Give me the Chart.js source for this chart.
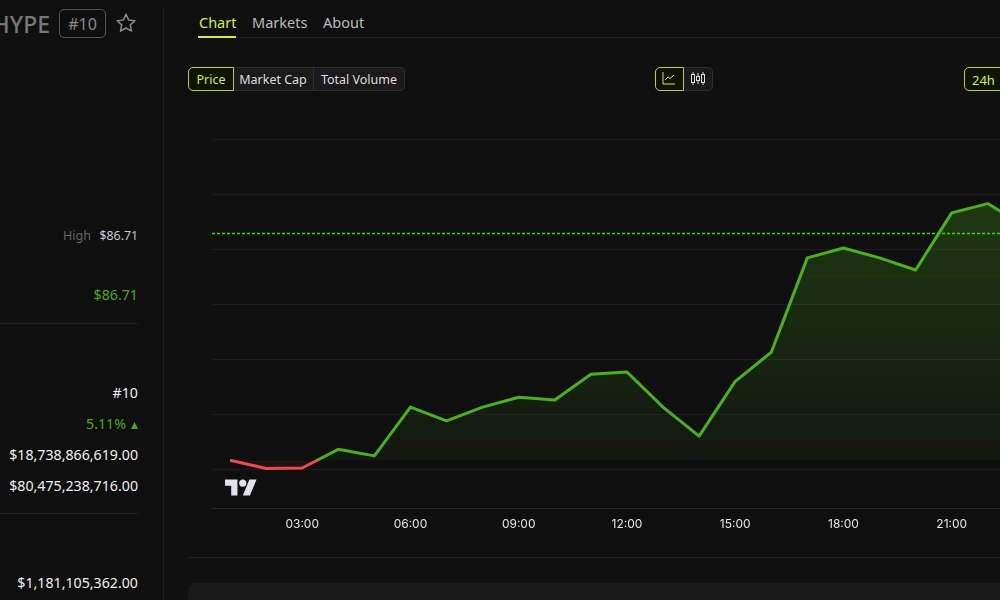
<!DOCTYPE html>
<html lang="en">
<head>
<meta charset="UTF-8">
<title>HYPE price chart</title>
<script src="https://cdn.jsdelivr.net/npm/chart.js"></script>
<style>
    html, body { margin: 0; padding: 0; width: 1000px; height: 600px; overflow: hidden; background: #0f0f0f; }
    body { position: relative; font-family: "Noto Sans", sans-serif; color: #eee; }
    .t { position: absolute; white-space: nowrap; line-height: 20px; }
    .r { text-align: right; right: 862px; }
    .rule { position: absolute; background: #222; height: 1px; }
    .btn { position: absolute; top: 67px; height: 22px; line-height: 24px; text-align: center; font-size: 12.5px; color: #ddd;
           background: #1a1a1a; border: 1px solid #2e2e2e; box-sizing: content-box; }
    .on { color: #cdee44; background: #101200; border-color: #b4d13c; z-index: 2; }
    #chartBox { position: absolute; left: 212px; top: 112px; width: 866px; height: 433px; }
</style>
</head>
<body>
    <!-- left column -->
    <div class="t" style="right:950px;top:10px;font-size:23px;line-height:28px;color:#777;font-weight:500">HYPE</div>
    <div class="t" style="left:59px;top:9px;width:45px;height:27px;border:1px solid #555;border-radius:5px;text-align:center;font-size:16px;line-height:28px;color:#888">#10</div>
    <svg style="position:absolute;left:115px;top:12px" width="22" height="22" viewBox="0 0 24 24" fill="none" stroke="#888" stroke-width="1.7" stroke-linejoin="round">
        <path d="M12 2.5l2.9 6.2 6.8.8-5 4.6 1.3 6.7-6-3.4-6 3.4 1.3-6.7-5-4.6 6.8-.8z"/>
    </svg>
    <div class="t" style="right:909px;top:226px;font-size:12.5px;color:#666">High</div>
    <div class="t r" style="top:226px;font-size:12.3px;color:#ccc">$86.71</div>
    <div class="t r" style="top:285px;font-size:14.2px;color:#4ca91a">$86.71</div>
    <div class="rule" style="left:0;top:323px;width:138px"></div>
    <div class="t r" style="top:383px;font-size:14.2px">#10</div>
    <div class="t" style="right:874px;top:414px;font-size:14.2px;color:#4ca91a">5.11%</div>
    <svg style="position:absolute;left:131px;top:422px" width="7" height="7"><path d="M3.5 0L7 7H0z" fill="#4ca91a"/></svg>
    <div class="t r" style="top:445px;font-size:14.2px">$18,738,866,619.00</div>
    <div class="t r" style="top:476px;font-size:14.2px">$80,475,238,716.00</div>
    <div class="rule" style="left:0;top:513px;width:138px"></div>
    <div class="t r" style="top:573px;font-size:14.2px">$1,181,105,362.00</div>
    <div class="rule" style="left:163px;top:8px;width:1px;height:592px;background:#1e1e1e"></div>

    <!-- tabs -->
    <div class="t" style="left:199px;top:12px;font-size:14.5px;color:#cdee44">Chart</div>
    <div class="t" style="left:252px;top:12px;font-size:14.5px;color:#bbb">Markets</div>
    <div class="t" style="left:323px;top:12px;font-size:14.5px;color:#bbb">About</div>
    <div class="rule" style="left:198px;top:37px;width:802px"></div>
    <div class="rule" style="left:198px;top:36px;width:38px;height:2px;background:#cdee44"></div>

    <!-- toolbar -->
    <div class="btn on" style="left:188px;width:44px;border-radius:5px 0 0 5px">Price</div>
    <div class="btn" style="left:233px;width:80px;border-left:0">Market Cap</div>
    <div class="btn" style="left:314px;width:90px;border-left:0;border-radius:0 5px 5px 0">Total Volume</div>
    <div class="btn on" style="left:655px;width:27px;border-radius:5px 0 0 5px"></div>
    <div class="btn" style="left:683px;width:29px;border-left:0;border-radius:0 5px 5px 0"></div>
    <svg style="position:absolute;left:662px;top:72px;z-index:3" width="14" height="13" fill="none" stroke="#cdee44" stroke-width="1">
        <path d="M1 0v12h12M3 8l3-3 2 1.5L12 3"/>
    </svg>
    <svg style="position:absolute;left:690px;top:72px;z-index:3" width="16" height="13" fill="none" stroke="#ddd" stroke-width="1">
        <rect x="1.5" y="2.5" width="3" height="8"/><rect x="6.5" y="4.5" width="3" height="4"/><rect x="11.5" y="2.5" width="3" height="8"/>
        <path d="M3 0v2M3 11v2M8 1v3M8 9v3M13 0v2M13 11v2"/>
    </svg>
    <div class="btn on" style="left:964px;width:60px;border-radius:5px 0 0 5px;text-align:left;text-indent:7px;font-size:13px">24h</div>

    <!-- chart -->
    <div id="chartBox"><canvas id="priceChart"></canvas></div>
    <svg style="position:absolute;left:225px;top:476px" width="32" height="25" viewBox="0 0 36 28" fill="#e0e3eb">
        <path d="M14 22H7V11H0V4h14v18zM28 22h-8l7.5-18h8L28 22z"/><circle cx="20" cy="8" r="4"/>
    </svg>

    <!-- below chart -->
    <div class="rule" style="left:188px;top:557px;width:812px"></div>
    <div style="position:absolute;left:188px;top:583px;width:830px;height:40px;background:#191919;border-radius:8px"></div>

    <script>
        const hours = ["01:00","02:00","03:00","04:00","05:00","06:00","07:00","08:00","09:00","10:00","11:00","12:00",
                       "13:00","14:00","15:00","16:00","17:00","18:00","19:00","20:00","21:00","22:00","23:00","00:00"];
        const prices = [82.16, 82.01, 82.02, 82.36, 82.24, 83.13, 82.88, 83.13, 83.31, 83.26, 83.73, 83.77,
                        83.13, 82.60, 83.60, 84.13, 85.85, 86.03, 85.85, 85.63, 86.67, 86.84, 86.43];
        const baseline = 82.16;
        const lastPrice = 86.31;
        const yMin = 81.29;
        const yMax = 88.51;

        const green = "#4caf1c";
        const red = "#ea4a50";

        // line and fill change colour at the baseline, so the gradients need the final scale
        const baselinePlugin = {
            id: "baselineColours",
            afterLayout(chart) {
                const y = chart.scales.y;
                const c = chart.ctx;
                const base = y.getPixelForValue(baseline);
                const stop = (base - y.top) / (y.bottom - y.top);

                const line = c.createLinearGradient(0, y.top, 0, y.bottom);
                line.addColorStop(0, green);
                line.addColorStop(stop, green);
                line.addColorStop(stop, red);
                line.addColorStop(1, red);

                const above = c.createLinearGradient(0, y.getPixelForValue(86.84), 0, base);
                above.addColorStop(0, "rgba(76,175,28,0.26)");
                above.addColorStop(1, "rgba(76,175,28,0.05)");

                const ds = chart.data.datasets[0];
                ds.borderColor = line;
                ds.fill = { target: { value: baseline }, above: above, below: "rgba(234,74,80,0.07)" };
            }
        };

        // dotted last price level runs over the whole plot width
        const lastPricePlugin = {
            id: "lastPriceLine",
            afterDatasetsDraw(chart) {
                const c = chart.ctx;
                const py = Math.round(chart.scales.y.getPixelForValue(lastPrice)) + 0.5;
                c.save();
                c.strokeStyle = "#3ed600";
                c.lineWidth = 1.3;
                c.setLineDash([3, 2]);
                c.beginPath();
                c.moveTo(chart.chartArea.left, py);
                c.lineTo(chart.chartArea.right, py);
                c.stroke();
                c.restore();
            }
        };

        new Chart(document.getElementById("priceChart"), {
            type: "line",
            data: {
                labels: hours,
                datasets: [{
                    data: prices,
                    borderWidth: 3,
                    pointRadius: 0,
                    tension: 0,
                    borderJoinStyle: "round"
                }]
            },
            plugins: [baselinePlugin, lastPricePlugin],
            options: {
                responsive: true,
                maintainAspectRatio: false,
                animation: false,
                layout: { padding: 0 },
                plugins: { legend: { display: false }, tooltip: { enabled: false } },
                scales: {
                    x: {
                        type: "category",
                        offset: true,
                        afterFit(scale) { scale.height = 37; },
                        grid: { display: false },
                        border: { color: "#262626" },
                        ticks: {
                            autoSkip: false,
                            maxRotation: 0,
                            padding: 1,
                            color: "#e4e4e4",
                            font: { family: "Inter", size: 12 },
                            callback(value, index) { return index % 3 === 2 ? hours[index] : null; }
                        }
                    },
                    y: {
                        min: yMin,
                        max: yMax,
                        afterFit(scale) { scale.width = 0; },
                        grid: { color: "#1d1d1d", drawTicks: false },
                        border: { display: false },
                        ticks: { display: false, stepSize: 1, includeBounds: false }
                    }
                }
            }
        });
    </script>
</body>
</html>
